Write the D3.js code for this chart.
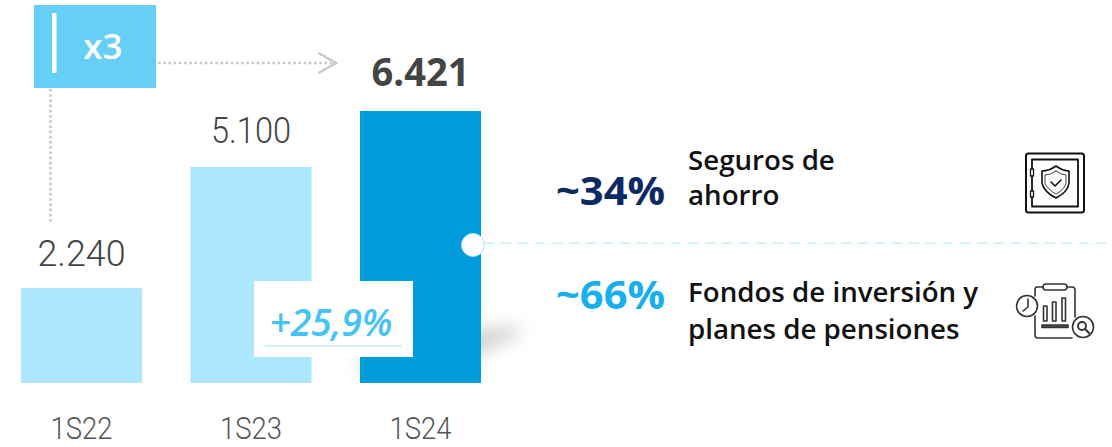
<!DOCTYPE html>
<html><head><meta charset="utf-8">
<script src="https://cdn.jsdelivr.net/npm/d3@7/dist/d3.min.js"></script>
<style>
html,body{margin:0;padding:0;background:#fff}
svg{display:block}
text{font-family:"Open Sans","Noto Sans",sans-serif}
text.light{font-family:Roboto,"Open Sans",sans-serif}
</style></head><body>
<svg id="c" width="1112" height="447"></svg>
<script>
const categories = ["1S22","1S23","1S24"];
const values = [2240,5100,6421];
const valueLabels = ["2.240","5.100","6.421"];
const barColors = ["#ade6ff","#ade6ff","#009bdb"];
const multipleLabel = "x3";
const growthLabel = "+25,9%";
const shareValues = ["~34%","~66%"];
const shareColors = ["#0b2a63","#17b0ee"];
const shareNames = [["Seguros de","ahorro"],["Fondos de inversión y","planes de pensiones"]];

const svg = d3.select("#c");
const defs = svg.append("defs");
defs.append("filter").attr("id","blur").attr("x","-30%").attr("y","-80%").attr("width","160%").attr("height","260%")
  .append("feGaussianBlur").attr("stdDeviation",8);

const x = d3.scaleBand().domain(categories).range([21,481]).paddingInner(0.286).paddingOuter(0);
const y = d3.scaleLinear().domain([0,6421]).range([383,111]);
const bw = x.bandwidth();

// shadow behind the last bar
svg.append("path").attr("d","M348 364 L420 346 L478 328 L520 326 L518 336 L470 360 L400 372 Z")
  .attr("fill","#bcbcbc").attr("opacity",.62).attr("filter","url(#blur)");

svg.selectAll("rect.bar").data(values).join("rect").attr("class","bar")
  .attr("x",(d,i)=>x(categories[i])).attr("width",bw)
  .attr("y",d=>y(d)).attr("height",d=>y(0)-y(d))
  .attr("fill",(d,i)=>barColors[i]);

const valOffset = [22,23.5,25];
const valWidth = [88,80,98];
svg.selectAll("text.val").data(values).join("text")
  .attr("class",(d,i)=>i==2?"val":"val light")
  .attr("x",(d,i)=>x(categories[i])+bw/2).attr("y",(d,i)=>y(d)-valOffset[i])
  .attr("text-anchor","middle").attr("fill","#444")
  .attr("font-size",(d,i)=>i==2?39:37)
  .attr("font-weight",(d,i)=>i==2?700:300)
  .attr("textLength",(d,i)=>valWidth[i]).attr("lengthAdjust","spacingAndGlyphs")
  .text((d,i)=>valueLabels[i]);

svg.selectAll("text.cat").data(categories).join("text").attr("class","cat light")
  .attr("x",d=>x(d)+bw/2).attr("y",439).attr("text-anchor","middle")
  .attr("fill","#555").attr("font-size",32).attr("font-weight",300)
  .attr("textLength",62).attr("lengthAdjust","spacingAndGlyphs").text(d=>d);

// x3 badge
svg.append("rect").attr("x",34).attr("y",5).attr("width",122).attr("height",83).attr("fill","#66cff8");
svg.append("rect").attr("x",52).attr("y",13).attr("width",4.5).attr("height",60).attr("fill","#fff");
svg.append("text").attr("x",103).attr("y",59).attr("text-anchor","middle").attr("fill","#fff")
  .attr("font-size",35).attr("font-weight",600).text(multipleLabel);

// dotted connectors
svg.append("line").attr("x1",158).attr("x2",335).attr("y1",63).attr("y2",63)
  .attr("stroke","#c8c8c8").attr("stroke-width",2.6).attr("stroke-dasharray","2.6 2.6");
svg.append("path").attr("d","M318.5 53 L336 63 L318.5 73").attr("fill","none").attr("stroke","#c8c8c8").attr("stroke-width",2.4);
svg.append("line").attr("x1",50.5).attr("x2",50.5).attr("y1",89).attr("y2",222)
  .attr("stroke","#c8c8c8").attr("stroke-width",2.6).attr("stroke-dasharray","2.6 2.6");

// growth box
svg.append("rect").attr("x",254).attr("y",281).attr("width",159).attr("height",76).attr("fill","#fff");
svg.append("text").attr("x",331).attr("y",336).attr("text-anchor","middle").attr("fill","#45c3f5")
  .attr("font-size",38).attr("font-weight",600).attr("font-style","italic")
  .attr("textLength",123).attr("lengthAdjust","spacingAndGlyphs").text(growthLabel);
svg.append("line").attr("x1",265).attr("x2",402).attr("y1",346).attr("y2",346).attr("stroke","#d5f1fc").attr("stroke-width",2);

// split connector
svg.append("line").attr("x1",484).attr("x2",1108).attr("y1",243).attr("y2",243)
  .attr("stroke","#c9eff8").attr("stroke-width",1.6).attr("stroke-dasharray","10 7");
svg.append("circle").attr("cx",473).attr("cy",245).attr("r",11.5).attr("fill","#fff").attr("stroke","#ade6ff").attr("stroke-width",1);

// shares
const shareY = [205,309];
svg.selectAll("text.pct").data(shareValues).join("text").attr("class","pct")
  .attr("x",665).attr("y",(d,i)=>shareY[i]).attr("text-anchor","end")
  .attr("fill",(d,i)=>shareColors[i]).attr("font-size",40).attr("font-weight",700)
  .attr("textLength",109).attr("lengthAdjust","spacingAndGlyphs").text(d=>d);

const nameY = [[170,205],[302,339]];
shareNames.forEach((lines,i)=>lines.forEach((t,j)=>{
  svg.append("text").attr("x",688).attr("y",nameY[i][j]).attr("fill","#111")
    .attr("font-size",27.7).attr("font-weight",600).text(t);
}));

// safe icon
const s = svg.append("g").attr("fill","none").attr("stroke","#111").attr("stroke-linecap","round").attr("stroke-linejoin","round");
s.append("rect").attr("x",1026).attr("y",153.5).attr("width",58).attr("height",59).attr("rx",2.5).attr("stroke-width",2);
s.append("path").attr("d","M1032 159.5 H1078 V206.5 H1032 M1032 159.5 V168 M1032 177 V190 M1032 198 V206.5").attr("stroke-width",1.8);
s.append("rect").attr("x",1030.5).attr("y",169).attr("width",3).attr("height",7).attr("stroke-width",1.3);
s.append("rect").attr("x",1030.5).attr("y",191).attr("width",3).attr("height",6).attr("stroke-width",1.3);
s.append("path").attr("d","M1056 166 Q1063 171 1069 171 V183 Q1068 192 1056 198 Q1044 192 1042 183 V171 Q1049 171 1056 166 Z").attr("stroke-width",1.6);
s.append("path").attr("d","M1056 171 Q1061 175 1066 175 V183 Q1065 189 1056 194 Q1047 189 1045 183 V175 Q1051 175 1056 171 Z").attr("stroke-width",.8);
s.append("path").attr("d","M1051 182 L1055 186 L1061 180").attr("stroke-width",1.6);

// report icon
const r = svg.append("g").attr("fill","none").attr("stroke","#333").attr("stroke-linecap","round").attr("stroke-linejoin","round").attr("stroke-width",1.6);
r.append("path").attr("d","M1043 287 H1037 Q1035 287 1035 290 V296 M1035 316 V335 Q1035 338 1038 338 H1072 M1067 287 H1072 Q1075 287 1075 290 V317");
r.append("rect").attr("x",1043).attr("y",284).attr("width",24).attr("height",6).attr("rx",3);
r.append("circle").attr("cx",1027).attr("cy",306).attr("r",10.5);
r.append("path").attr("d","M1028 299 V307 L1023 311");
[[1043.5,306,15],[1052.5,302,19],[1062,298,23]].forEach(d=>r.append("rect").attr("x",d[0]).attr("y",d[1]).attr("width",3.5).attr("height",d[2]));
r.append("rect").attr("x",1042).attr("y",325).attr("width",26).attr("height",2.5).attr("fill","#555");
r.append("circle").attr("cx",1083).attr("cy",327).attr("r",10.5).attr("fill","#fff");
r.append("circle").attr("cx",1082).attr("cy",326).attr("r",4).attr("stroke-width",1.9);
r.append("path").attr("d","M1085 329 L1089 333").attr("stroke-width",2.2);
</script>
</body></html>
